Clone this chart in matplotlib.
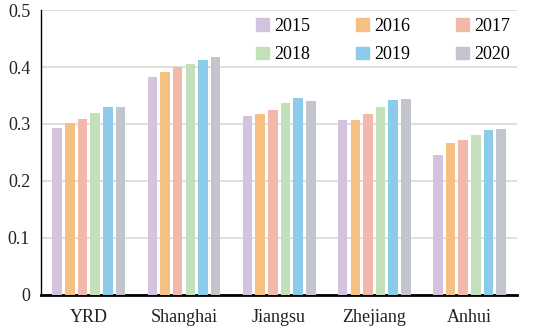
import numpy as np
import matplotlib.pyplot as plt
from matplotlib.patches import Patch

# DATOS
regiones = ['YRD', 'Shanghai', 'Jiangsu', 'Zhejiang', 'Anhui']
anios = ['2015', '2016', '2017', '2018', '2019', '2020']
v2015 = [0.293, 0.383, 0.314, 0.307, 0.246]
v2016 = [0.301, 0.392, 0.318, 0.307, 0.266]
v2017 = [0.308, 0.400, 0.324, 0.317, 0.271]
v2018 = [0.319, 0.405, 0.336, 0.329, 0.280]
v2019 = [0.329, 0.413, 0.345, 0.342, 0.290]
v2020 = [0.329, 0.418, 0.341, 0.343, 0.292]
series = [v2015, v2016, v2017, v2018, v2019, v2020]
colores = ['#d4c3df', '#f4c183', '#f2b9aa', '#c4e0bb', '#8ccbe9', '#c3c5cd']

plt.rcParams['font.family'] = ['Liberation Serif', 'DejaVu Serif']

fig, ax = plt.subplots(figsize=(5.5, 3.35), dpi=100)
fig.subplots_adjust(left=0.075, right=0.94, top=0.97, bottom=0.12)

x = np.arange(len(regiones))
ancho = 0.1
paso = 0.133
for i, (vals, c) in enumerate(zip(series, colores)):
    ax.bar(x + (i - 2.5) * paso, vals, width=ancho, color=c, zorder=3)

ax.set_xlim(-0.5, len(regiones) - 0.5)
ax.set_ylim(0, 0.5)
ax.set_yticks([0, 0.1, 0.2, 0.3, 0.4, 0.5])
ax.set_yticklabels(['0', '0.1', '0.2', '0.3', '0.4', '0.5'])
ax.set_xticks(x)
ax.set_xticklabels(regiones)
ax.tick_params(axis='both', length=0, labelsize=13, colors='#222222')
ax.tick_params(axis='x', pad=10)
ax.tick_params(axis='y', pad=8)
ax.grid(axis='y', color='#d9d9d9', linewidth=1.2, zorder=0)
for s in ['top', 'right']:
    ax.spines[s].set_visible(False)
ax.spines['left'].set_color('black')
ax.spines['left'].set_linewidth(1.0)
ax.spines['bottom'].set_color('black')
ax.spines['bottom'].set_linewidth(2.0)

# leyenda por filas: 2015 2016 2017 / 2018 2019 2020
handles = [Patch(color=c, label=a) for a, c in zip(anios, colores)]
orden = [0, 3, 1, 4, 2, 5]
ax.legend(handles=[handles[k] for k in orden], ncol=3, loc='upper right',
          bbox_to_anchor=(1.02, 1.03), frameon=False, fontsize=13,
          handlelength=0.7, handleheight=0.7, handletextpad=0.3,
          columnspacing=2.55, labelspacing=0.65)

plt.savefig('out.png')
